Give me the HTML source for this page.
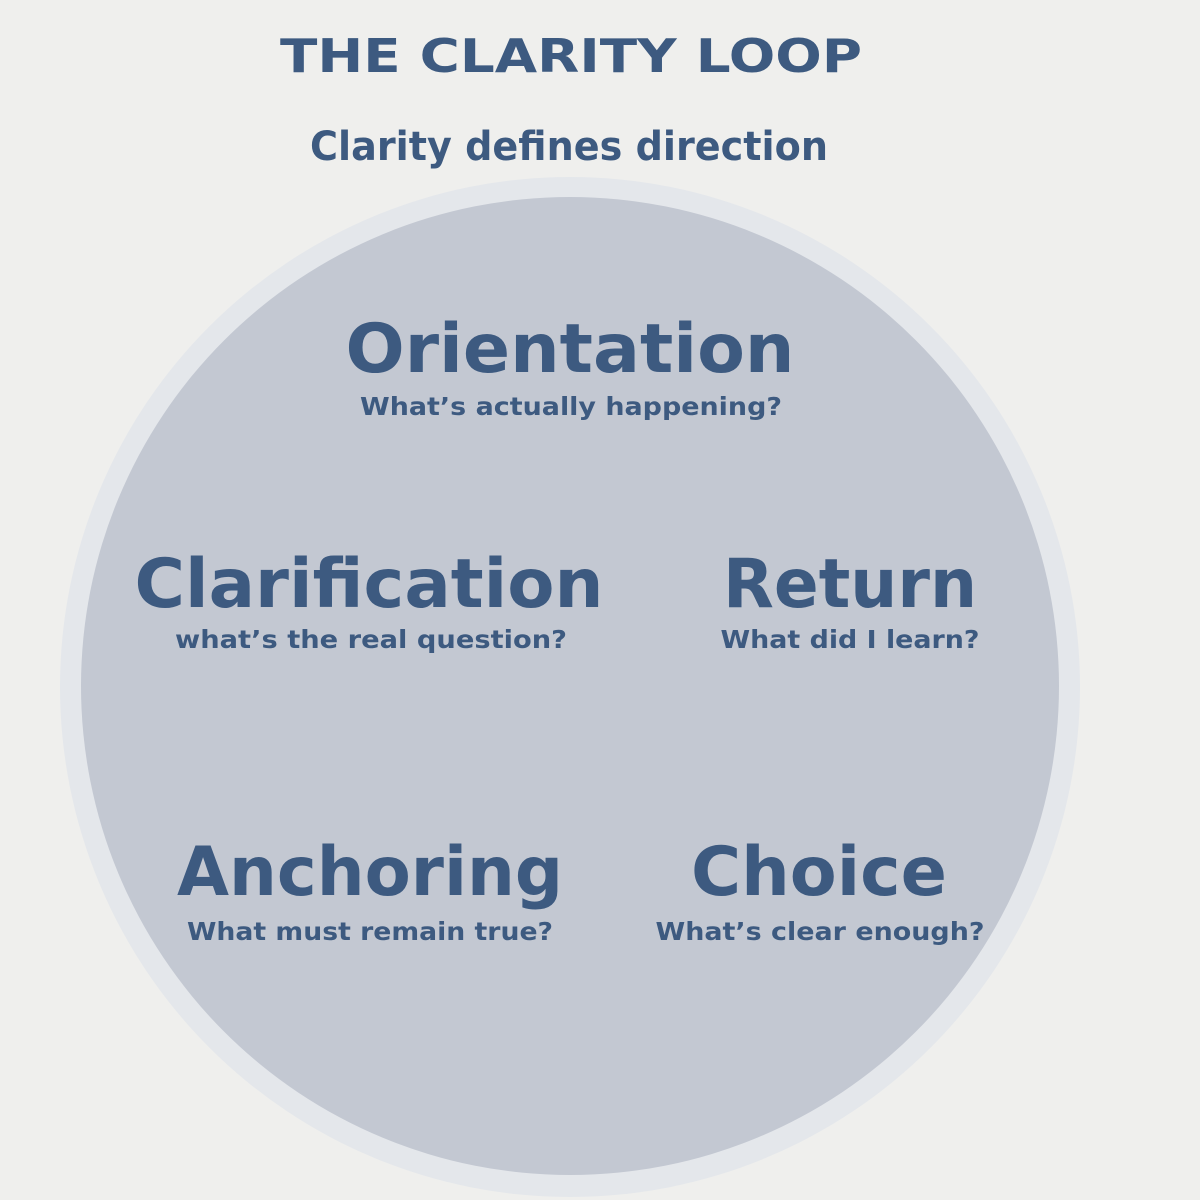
<!DOCTYPE html>
<html><head><meta charset="utf-8"><style>
html,body{margin:0;padding:0;background:#efefed;}
svg{display:block;}
text{font-family:"DejaVu Sans","Liberation Sans",sans-serif;fill:#3d5a80;font-weight:bold;}
</style></head><body>
<svg width="1200" height="1200" viewBox="0 0 1200 1200">
<rect width="1200" height="1200" fill="#efefed"/>
<circle cx="570" cy="687" r="510" fill="#e4e7eb"/>
<circle cx="570" cy="686" r="489" fill="#c3c8d2"/>
<text x="571" y="72" text-anchor="middle" font-size="46" textLength="582" lengthAdjust="spacingAndGlyphs">THE CLARITY LOOP</text>
<text x="569" y="160" text-anchor="middle" font-size="40" textLength="518" lengthAdjust="spacingAndGlyphs">Clarity defines direction</text>
<text x="570" y="372" text-anchor="middle" font-size="68" textLength="449" lengthAdjust="spacingAndGlyphs">Orientation</text>
<text x="571" y="415" text-anchor="middle" font-size="25" textLength="422" lengthAdjust="spacingAndGlyphs">What’s actually happening?</text>
<text x="369" y="607" text-anchor="middle" font-size="68" textLength="469" lengthAdjust="spacingAndGlyphs">Clarification</text>
<text x="371" y="648" text-anchor="middle" font-size="25" textLength="392" lengthAdjust="spacingAndGlyphs">what’s the real question?</text>
<text x="850" y="607" text-anchor="middle" font-size="68" textLength="254" lengthAdjust="spacingAndGlyphs">Return</text>
<text x="850" y="648" text-anchor="middle" font-size="25" textLength="259" lengthAdjust="spacingAndGlyphs">What did I learn?</text>
<text x="370" y="895" text-anchor="middle" font-size="68" textLength="386" lengthAdjust="spacingAndGlyphs">Anchoring</text>
<text x="370" y="940" text-anchor="middle" font-size="25" textLength="366" lengthAdjust="spacingAndGlyphs">What must remain true?</text>
<text x="819" y="895" text-anchor="middle" font-size="68" textLength="256" lengthAdjust="spacingAndGlyphs">Choice</text>
<text x="820" y="940" text-anchor="middle" font-size="25" textLength="329" lengthAdjust="spacingAndGlyphs">What’s clear enough?</text>
</svg>
</body></html>
